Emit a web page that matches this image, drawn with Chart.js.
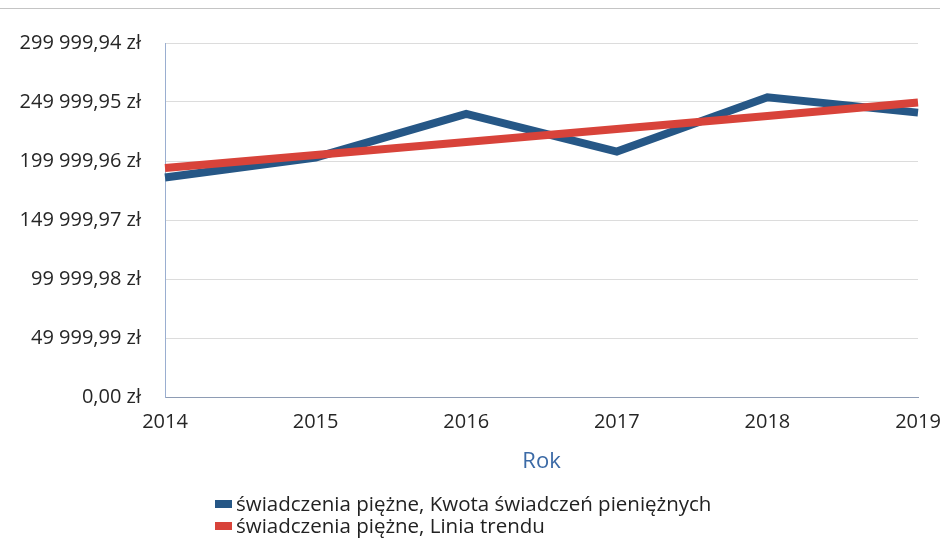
<!DOCTYPE html>
<html lang="pl">
<head>
<meta charset="utf-8">
<script src="https://cdn.jsdelivr.net/npm/chart.js@4.4.1/dist/chart.umd.min.js"></script>
<style>
    html, body { margin: 0; padding: 0; background: #fff; }
    #wrap { position: relative; width: 946px; height: 544px; overflow: hidden; }
    #scanline { position: absolute; left: 0; top: 8px; width: 940px; border-top: 1px solid #c4c4c4; }
    #legend { position: absolute; left: 215px; top: 492px; font-family: "Open Sans", sans-serif; font-size: 20.5px; line-height: 22px; color: #222; }
    #legend div { white-space: nowrap; }
    #legend span.box { display: inline-block; width: 17px; height: 8px; margin-right: 4px; vertical-align: 3px; }
</style>
</head>
<body>
<div id="wrap">
    <div id="scanline"></div>
    <canvas id="chart" width="946" height="544"></canvas>
    <div id="legend"></div>
</div>
<script>
// Data
const years = ['2014', '2015', '2016', '2017', '2018', '2019'];
const kwota = [186000, 203000, 240000, 208000, 254000, 241000];
const trend = [194100, 205100, 216100, 227200, 238200, 249500];
const seriesNames = ['świadczenia piężne, Kwota świadczeń pieniężnych', 'świadczenia piężne, Linia trendu'];
const yStep = 49999.99;
const yMax = 299999.94;

const blue = '#265786';
const red = '#d8433a';

// Polish currency format: "249 999,95 zł"
function formatZl(v) {
    const parts = Math.abs(v).toFixed(2).split('.');
    const intPart = parts[0].replace(/\B(?=(\d{3})+(?!\d))/g, '\u00a0');
    return intPart + ',' + parts[1] + ' zł';
}

const ctx = document.getElementById('chart');
new Chart(ctx, {
    type: 'line',
    data: {
        labels: years,
        datasets: [{
            label: seriesNames[0],
            data: kwota,
            borderColor: blue,
            backgroundColor: blue,
            borderWidth: 8,
            pointRadius: 0,
            tension: 0,
            borderJoinStyle: 'miter',
            order: 1
        }, {
            label: seriesNames[1],
            data: trend,
            borderColor: red,
            backgroundColor: red,
            borderWidth: 8,
            pointRadius: 0,
            tension: 0,
            order: 0
        }]
    },
    options: {
        responsive: false,
        animation: false,
        layout: { padding: { left: 0, right: 28, top: 43, bottom: 62 } },
        plugins: {
            legend: { display: false },
            tooltip: { enabled: false }
        },
        scales: {
            x: {
                offset: false,
                grid: { display: false },
                border: { display: true, color: '#8e9cb4', width: 1 },
                ticks: {
                    padding: 5,
                    color: '#262626',
                    maxRotation: 0,
                    autoSkip: false,
                    font: { family: 'Open Sans', size: 20 }
                },
                title: {
                    display: true,
                    text: 'Rok',
                    color: '#3b6aa6',
                    padding: { top: 0, bottom: 7 },
                    font: { family: 'Open Sans', size: 22 }
                },
                afterFit: (scale) => { scale.height = 85; }
            },
            y: {
                min: 0,
                max: yMax,
                grid: { color: '#dcdcdc', drawTicks: false },
                border: { display: true, color: '#9aaed0', width: 1 },
                ticks: {
                    stepSize: yStep,
                    padding: 24,
                    color: '#262626',
                    font: { family: 'Open Sans', size: 20 },
                    callback: (v) => formatZl(v)
                },
                afterFit: (scale) => { scale.width = 165; }
            }
        }
    }
});

// Legend as two left-aligned rows under the chart
const legendEl = document.getElementById('legend');
[blue, red].forEach((c, i) => {
    const row = document.createElement('div');
    const box = document.createElement('span');
    box.className = 'box';
    box.style.background = c;
    row.appendChild(box);
    row.appendChild(document.createTextNode(seriesNames[i]));
    legendEl.appendChild(row);
});
</script>
</body>
</html>
